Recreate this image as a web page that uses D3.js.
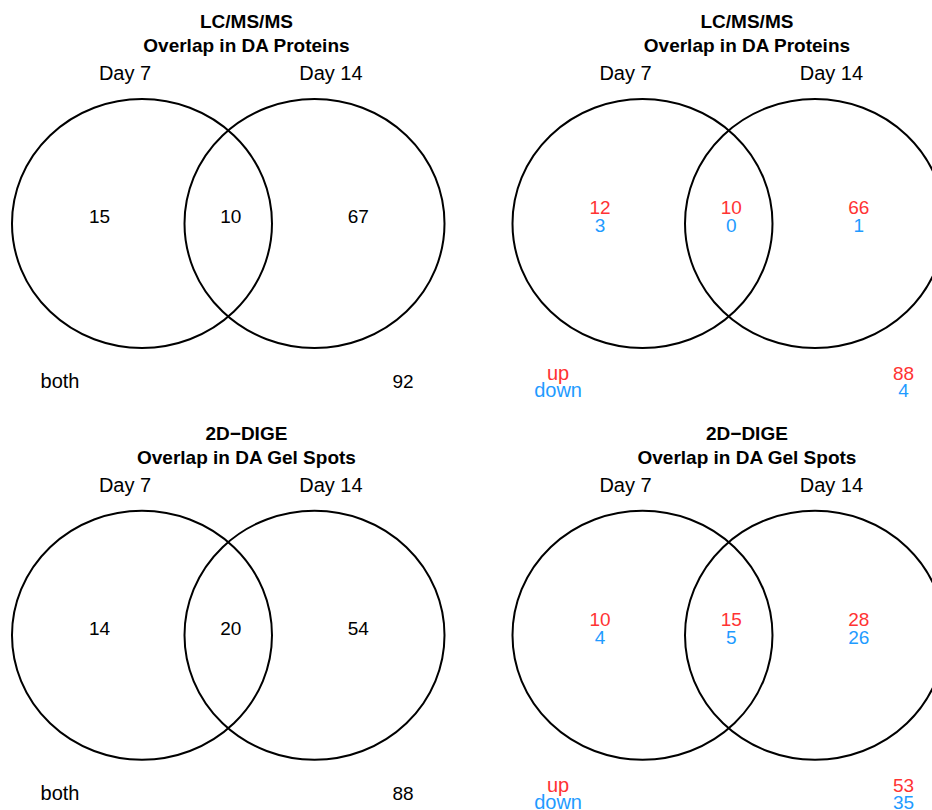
<html>
<head>
<title>Venn overlap</title>
<script src="https://d3js.org/d3.v7.min.js"></script>
<style>
  body { margin: 0; background: #fff; }
  text { font-family: "Liberation Sans", Arial, Helvetica, sans-serif; }
</style>
<script>
// ---- data ----
const titles = [
  ["LC/MS/MS", "Overlap in DA Proteins"],
  ["LC/MS/MS", "Overlap in DA Proteins"],
  ["2D\u2212DIGE", "Overlap in DA Gel Spots"],
  ["2D\u2212DIGE", "Overlap in DA Gel Spots"]
];
const sets = ["Day 7", "Day 14"];
const regions = ["day7", "both", "day14"];
// total counts (left panels)
const protTotal = [15, 10, 67];
const gelTotal = [14, 20, 54];
const protBothTotal = 92;
const gelBothTotal = 88;
// up / down counts (right panels)
const protUp = [12, 10, 66];
const protDown = [3, 0, 1];
const gelUp = [10, 15, 28];
const gelDown = [4, 5, 26];
const protBothUp = 88, protBothDown = 4;
const gelBothUp = 53, gelBothDown = 35;

const upColor = "#ff3333";
const downColor = "#1f9bff";

document.addEventListener('DOMContentLoaded', function(){
  const w = 932, h = 810;
  const svg = d3.select("body").append("svg").attr("width", w).attr("height", h);

  // panel anchors (centre between the two circles)
  const panels = [
    {mx: 228.25, my: 223.5, title: titles[0], split: false, total: protTotal, both: protBothTotal},
    {mx: 728.75, my: 223.5, title: titles[1], split: true, up: protUp, down: protDown, bothUp: protBothUp, bothDown: protBothDown},
    {mx: 228.25, my: 635.2, title: titles[2], split: false, total: gelTotal, both: gelBothTotal},
    {mx: 728.75, my: 635.2, title: titles[3], split: true, up: gelUp, down: gelDown, bothUp: gelBothUp, bothDown: gelBothDown}
  ];

  // layout in venn units (circle radius = 1)
  const half = 0.6635;
  const regionX = d3.scaleOrdinal().domain(regions).range([-0.99, 0.02, 1.0]);
  const setX = d3.scaleOrdinal().domain(sets).range([-0.794, 0.79]);

  panels.forEach(p => {
    const x = d3.scaleLinear().domain([0, 1]).range([p.mx, p.mx + 130]);
    const y = d3.scaleLinear().domain([0, 1]).range([p.my, p.my + 124.5]);
    const g = svg.append("g");

    g.selectAll("ellipse")
      .data([-half, half])
      .enter()
      .append("ellipse")
      .attr("cx", d => x(d))
      .attr("cy", y(0))
      .attr("rx", x(1) - x(0))
      .attr("ry", y(1) - y(0))
      .attr("fill", "none")
      .attr("stroke", "#000")
      .attr("stroke-width", 2);

    g.selectAll("text.title")
      .data(p.title)
      .enter()
      .append("text")
      .attr("class", "title")
      .attr("x", x(0.14))
      .attr("y", (d, i) => y(i === 0 ? -1.568 : -1.377))
      .attr("text-anchor", "middle")
      .style("font-size", "19px")
      .style("font-weight", "bold")
      .text(d => d);

    g.selectAll("text.set")
      .data(sets)
      .enter()
      .append("text")
      .attr("class", "set")
      .attr("x", d => x(setX(d)))
      .attr("y", y(-1.153))
      .attr("text-anchor", "middle")
      .style("font-size", "20px")
      .text(d => d);

    if (!p.split) {
      g.selectAll("text.count")
        .data(p.total)
        .enter()
        .append("text")
        .attr("class", "count")
        .attr("x", (d, i) => x(regionX(regions[i])))
        .attr("y", y(-0.004))
        .attr("text-anchor", "middle")
        .style("font-size", "19px")
        .text(d => d);

      g.append("text")
        .attr("x", x(-1.294))
        .attr("y", y(1.321))
        .attr("text-anchor", "middle")
        .style("font-size", "20px")
        .text("both");
      g.append("text")
        .attr("x", x(1.344))
        .attr("y", y(1.321))
        .attr("text-anchor", "middle")
        .style("font-size", "19px")
        .text(p.both);
    } else {
      g.selectAll("text.up")
        .data(p.up)
        .enter()
        .append("text")
        .attr("class", "up")
        .attr("x", (d, i) => x(regionX(regions[i])))
        .attr("y", y(-0.076))
        .attr("text-anchor", "middle")
        .attr("fill", upColor)
        .style("font-size", "19px")
        .text(d => d);
      g.selectAll("text.down")
        .data(p.down)
        .enter()
        .append("text")
        .attr("class", "down")
        .attr("x", (d, i) => x(regionX(regions[i])))
        .attr("y", y(0.068))
        .attr("text-anchor", "middle")
        .attr("fill", downColor)
        .style("font-size", "19px")
        .text(d => d);

      g.append("text")
        .attr("x", x(-1.313)).attr("y", y(1.257))
        .attr("text-anchor", "middle").attr("fill", upColor)
        .style("font-size", "20px").text("up");
      g.append("text")
        .attr("x", x(-1.313)).attr("y", y(1.394))
        .attr("text-anchor", "middle").attr("fill", downColor)
        .style("font-size", "20px").text("down");
      g.append("text")
        .attr("x", x(1.344)).attr("y", y(1.257))
        .attr("text-anchor", "middle").attr("fill", upColor)
        .style("font-size", "19px").text(p.bothUp);
      g.append("text")
        .attr("x", x(1.344)).attr("y", y(1.394))
        .attr("text-anchor", "middle").attr("fill", downColor)
        .style("font-size", "19px").text(p.bothDown);
    }
  });
});
</script>
</head>
<body>
</body>
</html>
